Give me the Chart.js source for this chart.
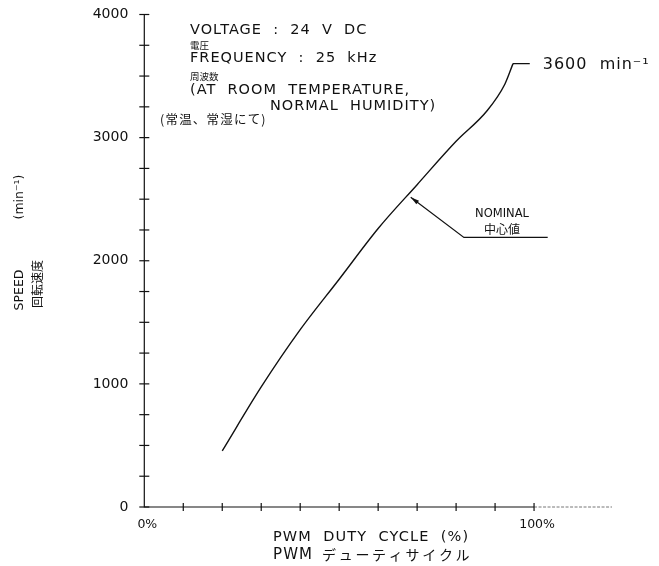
<!DOCTYPE html>
<html>
<head>
<meta charset="utf-8">
<script src="https://cdn.jsdelivr.net/npm/chart.js@4"></script>
<style>
  html, body { margin: 0; padding: 0; background: #fff; }
  #wrap { width: 659px; height: 566px; }
</style>
</head>
<body>
<div id="wrap"><canvas id="c" width="659" height="566"></canvas></div>
<script>
// ---- data ----
const dutyCycle = [20, 30, 40, 50, 60, 70, 80, 88, 92.5, 94.6];
const speed     = [456, 975, 1440, 1850, 2262, 2618, 2970, 3220, 3434, 3601];
const leaderDuty  = [94.6, 98.9];
const leaderSpeed = [3601, 3601];
const xTickLabels = { 0: '0%', 100: '100%' };
const yTickLabels = { 0: '0', 1000: '1000', 2000: '2000', 3000: '3000', 4000: '4000' };
const conditionLines = [
  ['VOLTAGE : 24 V DC', 'en'],
  ['電圧', 'ja'],
  ['FREQUENCY : 25 kHz', 'en'],
  ['周波数', 'ja'],
  ['(AT ROOM TEMPERATURE,', 'en'],
  ['NORMAL HUMIDITY)', 'en2'],
  ['(常温、常湿にて)', 'ja2']
];
const maxLabel = '3600 min⁻¹';
const nominalLabel = ['NOMINAL', '中心値'];
const nominalPoint = [68.1, 2515];
const nominalElbow = [82, 2190];
const nominalEnd = 103.5;
const xTitle = ['PWM DUTY CYCLE (%)', 'PWM', 'デューティサイクル'];
const yTitle = ['SPEED', '(min⁻¹)', '回転速度'];

const EN = '"DejaVu Sans", "Liberation Sans", sans-serif';
const JA = '"Noto Sans CJK JP", sans-serif';
const INK = '#111';

const crossTicks = {
  id: 'crossTicks',
  afterDatasetsDraw(chart) {
    const ctx = chart.ctx;
    const xs = chart.scales.x, ys = chart.scales.y;
    ctx.save();
    ctx.strokeStyle = INK;
    ctx.lineWidth = 1.2;
    ctx.beginPath();
    ctx.moveTo(xs.getPixelForValue(0), ys.getPixelForValue(4000));
    ctx.lineTo(xs.getPixelForValue(0), ys.getPixelForValue(0));
    ctx.lineTo(xs.getPixelForValue(100), ys.getPixelForValue(0));
    ctx.stroke();
    ctx.save();
    ctx.strokeStyle = '#777';
    ctx.lineWidth = 1;
    ctx.setLineDash([3, 1.5]);
    ctx.beginPath();
    ctx.moveTo(xs.getPixelForValue(100), ys.getPixelForValue(0));
    ctx.lineTo(xs.getPixelForValue(120), ys.getPixelForValue(0));
    ctx.stroke();
    ctx.restore();
    ys.ticks.forEach(t => {
      const y = ys.getPixelForValue(t.value);
      const x = xs.getPixelForValue(0);
      ctx.beginPath(); ctx.moveTo(x - 5, y); ctx.lineTo(x + 5, y); ctx.stroke();
    });
    xs.ticks.forEach(t => {
      if (t.value === 0 || t.value > 100) return;
      const x = xs.getPixelForValue(t.value);
      const y = ys.getPixelForValue(0);
      ctx.beginPath(); ctx.moveTo(x, y - 4); ctx.lineTo(x, y + 4); ctx.stroke();
    });
    ctx.restore();
  },
  afterDraw(chart) {
    const ctx = chart.ctx;
    const xs = chart.scales.x, ys = chart.scales.y;
    ctx.save();
    ctx.fillStyle = INK;
    ctx.strokeStyle = INK;
    ctx.textBaseline = 'middle';
    // conditions block
    const rowY = [30, 45, 58, 76, 90, 106, 119];
    conditionLines.forEach((l, i) => {
      ctx.textAlign = 'left';
      if (l[1] === 'ja') {
        ctx.font = '9.5px ' + JA;
        ctx.fillText(l[0], 190, rowY[i]);
      } else if (l[1] === 'ja2') {
        ctx.font = '12.5px ' + JA;
        ctx.letterSpacing = '1.2px';
        ctx.fillText(l[0], 160, rowY[i]);
        ctx.letterSpacing = '0px';
      } else {
        ctx.font = '14.5px ' + EN;
        ctx.letterSpacing = '1px';
        ctx.fillText(l[0].replace(/ /g, '  '), l[1] === 'en2' ? 270 : 190, rowY[i]);
        ctx.letterSpacing = '0px';
      }
    });
    // max speed label
    const topX = xs.getPixelForValue(leaderDuty[1]);
    const topY = ys.getPixelForValue(leaderSpeed[1]);
    ctx.font = '16px ' + EN;
    ctx.letterSpacing = '1px';
    ctx.textAlign = 'left';
    ctx.fillText(maxLabel.replace(' ', '  '), topX + 13, topY + 1);
    ctx.letterSpacing = '0px';
    // nominal leader
    const px = xs.getPixelForValue(nominalPoint[0]) + 1;
    const py = ys.getPixelForValue(nominalPoint[1]);
    const ex = xs.getPixelForValue(nominalElbow[0]), ey = ys.getPixelForValue(nominalElbow[1]);
    const fx = xs.getPixelForValue(nominalEnd);
    ctx.lineWidth = 1.2;
    ctx.beginPath(); ctx.moveTo(fx, ey); ctx.lineTo(ex, ey); ctx.lineTo(px, py); ctx.stroke();
    const ang = Math.atan2(py - ey, px - ex);
    ctx.beginPath();
    ctx.moveTo(px, py);
    ctx.lineTo(px - 9 * Math.cos(ang - 0.25), py - 9 * Math.sin(ang - 0.25));
    ctx.lineTo(px - 9 * Math.cos(ang + 0.25), py - 9 * Math.sin(ang + 0.25));
    ctx.closePath(); ctx.fill();
    ctx.textAlign = 'center';
    ctx.font = '11.5px ' + EN;
    ctx.fillText(nominalLabel[0], 502, 214);
    ctx.font = '12px ' + JA;
    ctx.fillText(nominalLabel[1], 502, 229);
    // x title
    ctx.textAlign = 'left';
    ctx.font = '14.5px ' + EN;
    ctx.letterSpacing = '1.1px';
    ctx.fillText(xTitle[0].replace(/ /g, '  '), 273, 537);
    ctx.font = '15px ' + EN;
    ctx.fillText(xTitle[1], 273, 555);
    ctx.font = '14px ' + JA;
    ctx.letterSpacing = '2.7px';
    ctx.fillText(xTitle[2], 322, 555);
    ctx.letterSpacing = '0px';
    // y title
    ctx.translate(20, 0);
    ctx.rotate(-Math.PI / 2);
    ctx.textAlign = 'center';
    ctx.font = '12.5px ' + EN;
    ctx.fillText(yTitle[0], -290, 0);
    ctx.fillText(yTitle[1], -197, 0);
    ctx.font = '12px ' + JA;
    ctx.fillText(yTitle[2], -284, 17);
    ctx.restore();
  }
};

new Chart(document.getElementById('c'), {
  type: 'scatter',
  data: {
    datasets: [{
      data: dutyCycle.map((x, i) => ({ x: x, y: speed[i] })),
      showLine: true,
      borderColor: INK,
      borderWidth: 1.4,
      pointRadius: 0,
      cubicInterpolationMode: 'monotone'
    }, {
      data: leaderDuty.map((x, i) => ({ x: x, y: leaderSpeed[i] })),
      showLine: true,
      borderColor: INK,
      borderWidth: 1.3,
      pointRadius: 0,
      tension: 0
    }]
  },
  options: {
    responsive: false,
    animation: false,
    layout: { padding: { left: 0, right: 47, top: 14.5, bottom: 0 } },
    plugins: { legend: { display: false }, tooltip: { enabled: false } },
    scales: {
      x: {
        type: 'linear', min: 0, max: 120,
        border: { display: false },
        grid: { display: false, drawTicks: false },
        afterFit(s) { s.height = 59; s.paddingLeft = 0; s.paddingRight = 0; },
        ticks: {
          stepSize: 10, autoSkip: false, maxRotation: 0, padding: 10, labelOffset: 3,
          color: INK, font: { family: EN, size: 12.5 },
          callback: v => xTickLabels[v] !== undefined ? xTickLabels[v] : ''
        }
      },
      y: {
        type: 'linear', min: 0, max: 4000,
        border: { display: false },
        grid: { display: false, drawTicks: false },
        afterFit(s) { s.width = 144.3; s.paddingTop = 0; s.paddingBottom = 0; },
        ticks: {
          stepSize: 250, autoSkip: false, padding: 16,
          color: INK, font: { family: EN, size: 14 },
          callback: v => yTickLabels[v] !== undefined ? yTickLabels[v] : ''
        }
      }
    }
  },
  plugins: [crossTicks]
});
</script>
</body>
</html>
